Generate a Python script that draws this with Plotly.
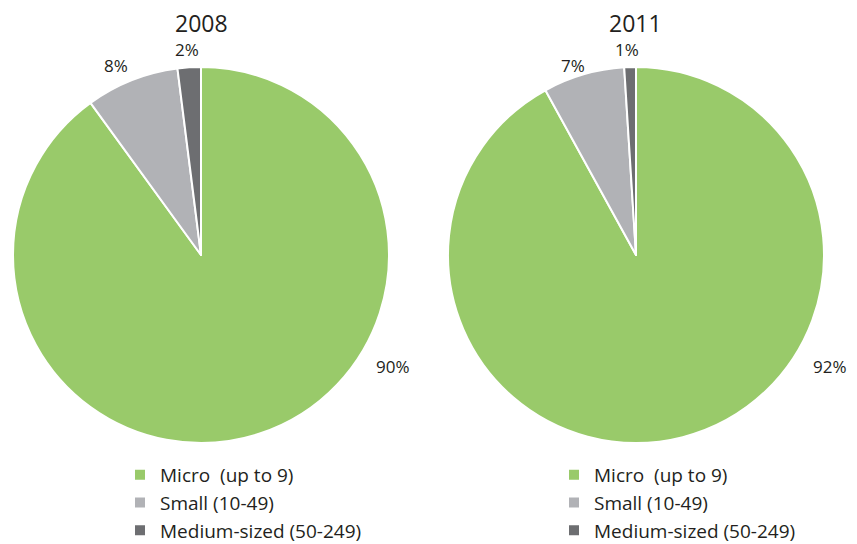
import plotly.graph_objects as go

categories = ["Micro  (up to 9)", "Small (10-49)", "Medium-sized (50-249)"]
years = ["2008", "2011"]
values_2008 = [90, 8, 2]
values_2011 = [92, 7, 1]
colors = ["#99ca6a", "#b1b2b6", "#6d6e71"]

# label spots (paper coords), Excel-style placement around each pie
label_xy_2008 = [(0.45347, 0.35893), (0.12721, 0.89643), (0.21084, 0.925)]
label_xy_2011 = [(0.96820, 0.35893), (0.66549, 0.89643), (0.72909, 0.925)]

fig = go.Figure()

domains = [dict(x=[0.005889, 0.448763], y=[0.223214, 0.894643]),
           dict(x=[0.518257, 0.961131], y=[0.223214, 0.894643])]

for i, (vals, dom) in enumerate(zip([values_2008, values_2011], domains)):
    # trailing spaces keep the two legends from merging identical labels
    labs = [c + " " * i for c in categories]
    fig.add_trace(go.Pie(
        labels=labs, values=vals, sort=False, direction="clockwise",
        rotation=0, textposition="none",
        marker=dict(colors=colors, line=dict(color="white", width=2)),
        domain=dom, legend="legend" if i == 0 else "legend2",
        hoverinfo="label+percent",
    ))

for vals, spots in zip([values_2008, values_2011], [label_xy_2008, label_xy_2011]):
    for v, (lx, ly) in zip(vals, spots):
        fig.add_annotation(text=f"{v}%", x=lx, y=ly, xref="paper", yref="paper",
                           xanchor="center", yanchor="middle", showarrow=False,
                           font=dict(size=17, color="#231f20"))

for yr, xc in zip(years, [0.22733, 0.73969]):
    fig.add_annotation(text=yr, x=xc, y=0.973214, xref="paper", yref="paper",
                       xanchor="center", yanchor="middle", showarrow=False,
                       font=dict(size=23, color="#231f20"))

legend_style = dict(font=dict(size=19, color="#231f20"), bgcolor="rgba(0,0,0,0)",
                    xanchor="left", yanchor="top", y=0.2)

# the page body adds an 8px margin; the figure runs past the window's lower edge
# so the legends have room without pushing the plot margins
fig.update_layout(
    width=849, height=560,
    margin=dict(l=0, r=0, t=0, b=0),
    paper_bgcolor="white",
    font=dict(family="Open Sans, DejaVu Sans, sans-serif", size=15, color="#231f20"),
    legend=dict(x=0.13192, **legend_style),
    legend2=dict(x=0.64311, **legend_style),
)

fig.write_html("out.html")
